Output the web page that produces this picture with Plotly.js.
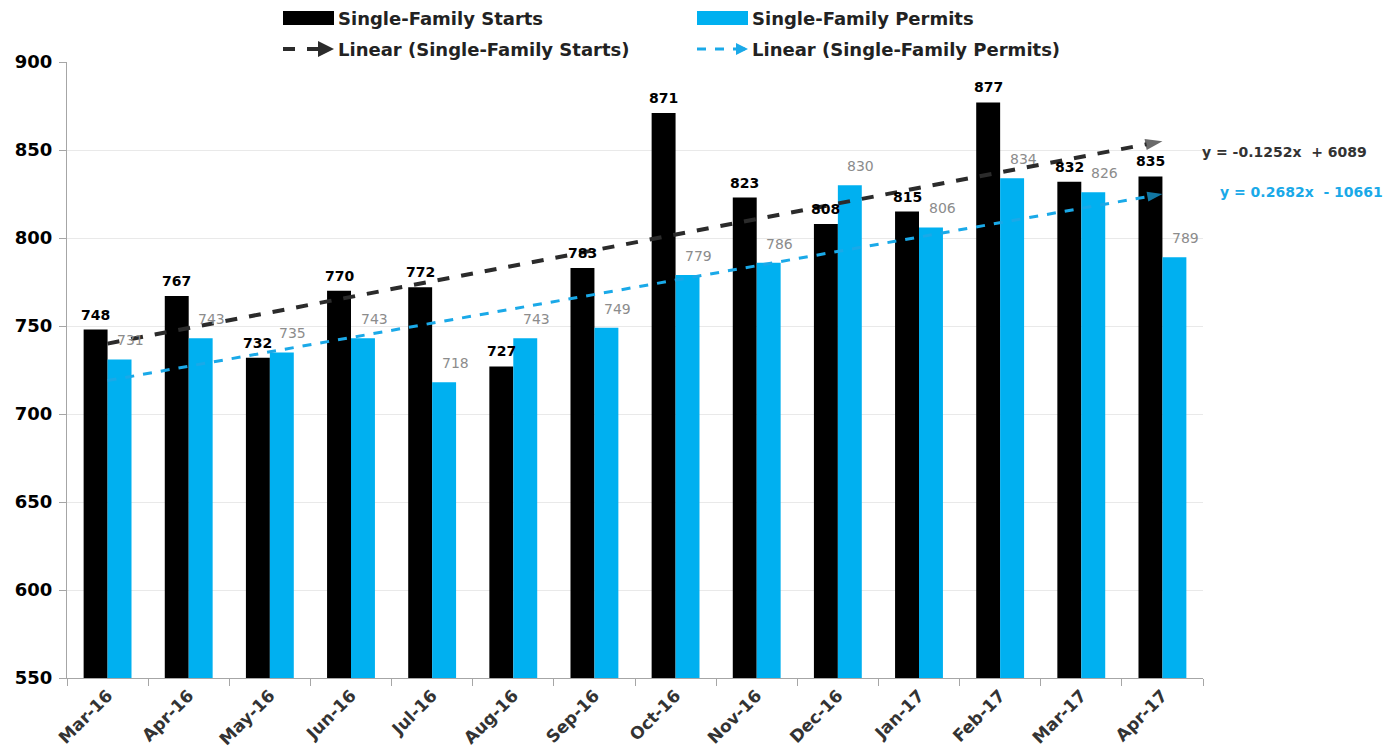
<!DOCTYPE html>
<html>
<head>
<meta charset="utf-8">
<script src="https://cdn.plot.ly/plotly-3.0.1.min.js"></script>
<style>
  html, body { margin: 0; padding: 0; background: #fff; }
  #chart { width: 1384px; height: 751px; }
</style>
</head>
<body>
<div id="chart"></div>
<script>
// Monthly single-family housing activity (thousands, SAAR)
const months = ["Mar-16", "Apr-16", "May-16", "Jun-16", "Jul-16", "Aug-16", "Sep-16",
                "Oct-16", "Nov-16", "Dec-16", "Jan-17", "Feb-17", "Mar-17", "Apr-17"];
const starts  = [748, 767, 732, 770, 772, 727, 783, 871, 823, 808, 815, 877, 832, 835];
const permits = [731, 743, 735, 743, 718, 743, 749, 779, 786, 830, 806, 834, 826, 789];

// Linear trend lines: end points at the first and last month
const trendMonths  = ["Mar-16", "Apr-17"];
const startsTrend  = [740, 855];
const permitsTrend = [719, 825];

const startsEq  = "y = -0.1252x  + 6089";
const permitsEq = "y = 0.2682x  - 10661";

const BLACK = "#000000";
const BLUE = "#00b0f0";
const TREND_DARK = "#2b2b2b";
const TREND_BLUE = "#1aa9e8";
const FONT = "DejaVu Sans, Verdana, sans-serif";

// plot area in pixels, used to place the hand-built legend
const L = 67, R = 1203, T = 62, B = 678;
const px = v => (v - L) / (R - L);
const py = v => (B - v) / (B - T);

const traces = [
  { type: "bar", name: "Single-Family Starts", x: months, y: starts,
    marker: { color: BLACK }, hoverinfo: "x+y" },
  { type: "bar", name: "Single-Family Permits", x: months, y: permits,
    marker: { color: BLUE }, hoverinfo: "x+y" },
  { type: "scatter", mode: "lines+markers", name: "Linear (Single-Family Starts)",
    x: trendMonths, y: startsTrend,
    line: { color: TREND_DARK, width: 4, dash: "dash" },
    marker: { symbol: "arrow", angleref: "previous", size: [0, 18], color: TREND_DARK,
              line: { width: 0 } },
    hoverinfo: "skip" },
  { type: "scatter", mode: "lines+markers", name: "Linear (Single-Family Permits)",
    x: trendMonths, y: permitsTrend,
    line: { color: TREND_BLUE, width: 3, dash: "dash" },
    marker: { symbol: "arrow", angleref: "previous", size: [0, 16], color: TREND_BLUE,
              line: { width: 0 } },
    hoverinfo: "skip" }
];

const annotations = [];
months.forEach((m, i) => {
  annotations.push({
    x: m, y: starts[i], xref: "x", yref: "y", text: String(starts[i]),
    showarrow: false, yanchor: "bottom", xshift: -12, yshift: 5,
    font: { family: FONT, size: 14, color: "#000", weight: "bold" }
  });
  annotations.push({
    x: m, y: permits[i], xref: "x", yref: "y", text: String(permits[i]),
    showarrow: false, yanchor: "bottom", xshift: 23, yshift: 9,
    font: { family: FONT, size: 14, color: "#8c8c8c" }
  });
});

// trend equations at the right of the plot
annotations.push({
  x: px(1200), y: py(152), xref: "paper", yref: "paper", text: startsEq,
  showarrow: false, xanchor: "left", yanchor: "middle",
  font: { family: FONT, size: 14, color: "#333", weight: "bold" }
});
annotations.push({
  x: px(1218), y: py(192), xref: "paper", yref: "paper", text: permitsEq,
  showarrow: false, xanchor: "left", yanchor: "middle",
  font: { family: FONT, size: 14, color: TREND_BLUE, weight: "bold" }
});

// legend
const legendRows = [
  { x: 283, y: 18, label: traces[0].name, kind: "box", color: BLACK },
  { x: 697, y: 18, label: traces[1].name, kind: "box", color: BLUE },
  { x: 283, y: 49, label: traces[2].name, kind: "line", color: TREND_DARK, w: 4 },
  { x: 697, y: 49, label: traces[3].name, kind: "line", color: TREND_BLUE, w: 3 }
];
const shapes = [];
legendRows.forEach(it => {
  if (it.kind === "box") {
    shapes.push({ type: "rect", xref: "paper", yref: "paper",
      x0: px(it.x), x1: px(it.x + 51), y0: py(it.y + 7), y1: py(it.y - 7),
      fillcolor: it.color, line: { width: 0 } });
  } else {
    shapes.push({ type: "line", xref: "paper", yref: "paper",
      x0: px(it.x), x1: px(it.x + 40), y0: py(it.y), y1: py(it.y),
      line: { color: it.color, width: it.w, dash: "dash" } });
    annotations.push({ x: px(it.x + 51), y: py(it.y), xref: "paper", yref: "paper",
      ax: -13, ay: 0, text: "", showarrow: true, arrowhead: 2, arrowsize: 0.8,
      arrowwidth: it.w, arrowcolor: it.color });
  }
  annotations.push({ x: px(it.x + 53), y: py(it.y), xref: "paper", yref: "paper",
    text: it.label, showarrow: false, xanchor: "left", yanchor: "middle",
    font: { family: FONT, size: 18, color: "#222", weight: "bold" } });
});

const layout = {
  width: 1384, height: 751,
  margin: { l: L, r: 1384 - R, t: T, b: 751 - B, pad: 0 },
  paper_bgcolor: "#fff", plot_bgcolor: "#fff",
  showlegend: false,
  barmode: "group", bargap: 0.41, bargroupgap: 0,
  font: { family: FONT },
  xaxis: {
    type: "category", tickangle: -45, range: [-0.5, months.length - 0.5],
    tickfont: { family: FONT, size: 17, color: "#333", weight: "bold" },
    showline: true, linecolor: "#a6a6a6", linewidth: 1,
    ticks: "outside", tickson: "boundaries", ticklen: 7, tickcolor: "#a6a6a6",
    showgrid: false, zeroline: false, automargin: false
  },
  yaxis: {
    range: [550, 900], dtick: 50, tick0: 550,
    tickfont: { family: FONT, size: 18, color: "#000", weight: "bold" },
    showline: true, linecolor: "#a6a6a6", linewidth: 1,
    ticks: "outside", ticklen: 7, tickcolor: "#a6a6a6",
    showgrid: true, gridcolor: "#e9e9e9", gridwidth: 1, zeroline: false,
    ticklabelstandoff: 3
  },
  annotations: annotations,
  shapes: shapes
};

Plotly.newPlot("chart", traces, layout, { displayModeBar: false, staticPlot: true });
</script>
</body>
</html>
